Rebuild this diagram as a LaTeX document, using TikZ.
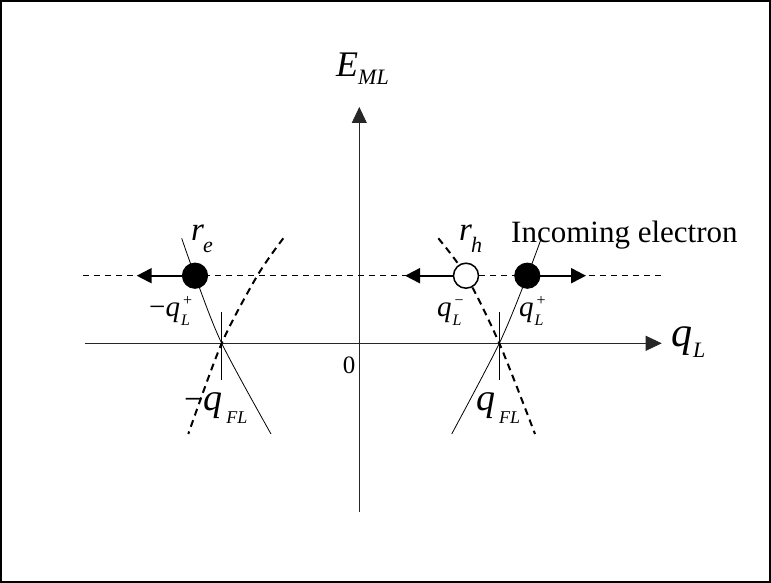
\documentclass[tikz,border=0pt]{standalone}
\usepackage{fontspec}
\setmainfont{Liberation Serif}
\usetikzlibrary{arrows.meta}
% main letter with lowered subscript
\newcommand{\slab}[6]{{\fontsize{#1}{#1}\selectfont\itshape #2}\kern#6\raisebox{-#5}{\fontsize{#3}{#3}\selectfont\itshape #4}}
% main letter with lowered subscript and stacked superscript sign
\newcommand{\sslab}[6]{{\fontsize{#1}{#1}\selectfont\itshape #2}\kern1pt\rlap{\kern2pt\raisebox{11pt}{\fontsize{#3}{#3}\selectfont #6}}\raisebox{-#5}{\fontsize{#3}{#3}\selectfont\itshape #4}}
\begin{document}
\begin{tikzpicture}[x=1pt,y=-1pt,
  axis/.style={line width=0.8pt, draw=black!85},
  band/.style={line width=0.8pt},
  dband/.style={line width=2pt, dash pattern=on 7pt off 5pt},
  level/.style={line width=1.5pt, dash pattern=on 6pt off 5pt},
  move/.style={line width=2pt, -{Triangle[length=15pt,width=15pt]}},
  axarrow/.style={-{Triangle[length=16pt,width=15pt]}},
  dot/.style={circle, draw=black, line width=1.2pt, fill=black, minimum size=25pt, inner sep=0pt},
  hole/.style={circle, draw=black, line width=1.5pt, fill=white, minimum size=25pt, inner sep=0pt},
  lab/.style={inner sep=0pt, anchor=base west},
  ]
\useasboundingbox (0,0) rectangle (771,583);
\draw[line width=1.5pt] (1,1) rectangle (770,582);

% axes
\coordinate (vb) at (359.3,512);
\coordinate (vt) at (359.3,107);
\coordinate (hl) at (85,343.3);
\coordinate (hr) at (661.7,343.3);
\draw[axis, axarrow] (vb) -- (vt);
\draw[axis, axarrow] (hl) -- (hr);

% level line
\coordinate (ll) at (83,275.7);
\coordinate (lr) at (662,275.7);
\draw[level] (ll) -- (lr);

% bands
\draw[band] plot[smooth] coordinates {(181.7,238.3) (195,275.7) (221.7,343.3) (271,434)};
\draw[dband] plot[smooth] coordinates {(283.3,238.3) (257.3,275.7) (221.7,343.3) (188.3,434)};
\draw[dband] plot[smooth] coordinates {(438.3,238.3) (466,275.7) (499.3,343.3) (535,434)};
\draw[band] plot[smooth] coordinates {(540.7,240) (527.3,275.7) (499.3,343.3) (451.7,434)};

% ticks
\coordinate (t1a) at (221.7,312); \coordinate (t1b) at (221.7,380);
\coordinate (t2a) at (499.3,312); \coordinate (t2b) at (499.3,380);
\draw[band] (t1a) -- (t1b);
\draw[band] (t2a) -- (t2b);

% particles
\node[dot]  (re) at (195,275.7) {};
\node[hole] (rh) at (466,275.7) {};
\node[dot]  (in) at (527.3,275.7) {};
\coordinate (reT) at (136.7,275.7);
\coordinate (rhT) at (405,275.7);
\coordinate (inT) at (586,275.7);
\draw[move] (re.west) -- (reT);
\draw[move] (rh.west) -- (rhT);
\draw[move] (in.east) -- (inT);

% labels
\node[lab] (lE) at (336,77) {\slab{36}{E}{22}{ML}{8pt}{0pt}};
\node[lab] (lq) at (671,346) {\slab{42}{q}{22}{L}{11pt}{1pt}};
\node[anchor=center, inner sep=0pt] (l0) at (349,365) {\fontsize{25}{28}\selectfont 0};
\node[lab] (lre) at (191,240) {\slab{33}{r}{22}{e}{12pt}{-1pt}};
\node[lab] (lrh) at (459,240) {\slab{33}{r}{22}{h}{12pt}{-1pt}};
\node[lab] (linc) at (511,242) {\fontsize{31}{36}\selectfont Incoming electron};
\node[lab] (lqmp) at (149,316) {{\fontsize{29}{29}\selectfont −}\sslab{29}{q}{16}{L}{9pt}{+}};
\node[lab] (lqm) at (437,316) {\sslab{29}{q}{16}{L}{9pt}{−}};
\node[lab] (lqp) at (519,316) {\sslab{29}{q}{16}{L}{9pt}{+}};
\node[lab] (lfm) at (184,410) {{\fontsize{34}{34}\selectfont −}\slab{38}{q}{18}{FL}{13pt}{4pt}};
\node[lab] (lfp) at (476,410) {\slab{38}{q}{18}{FL}{13pt}{4pt}};
\end{tikzpicture}
\end{document}
